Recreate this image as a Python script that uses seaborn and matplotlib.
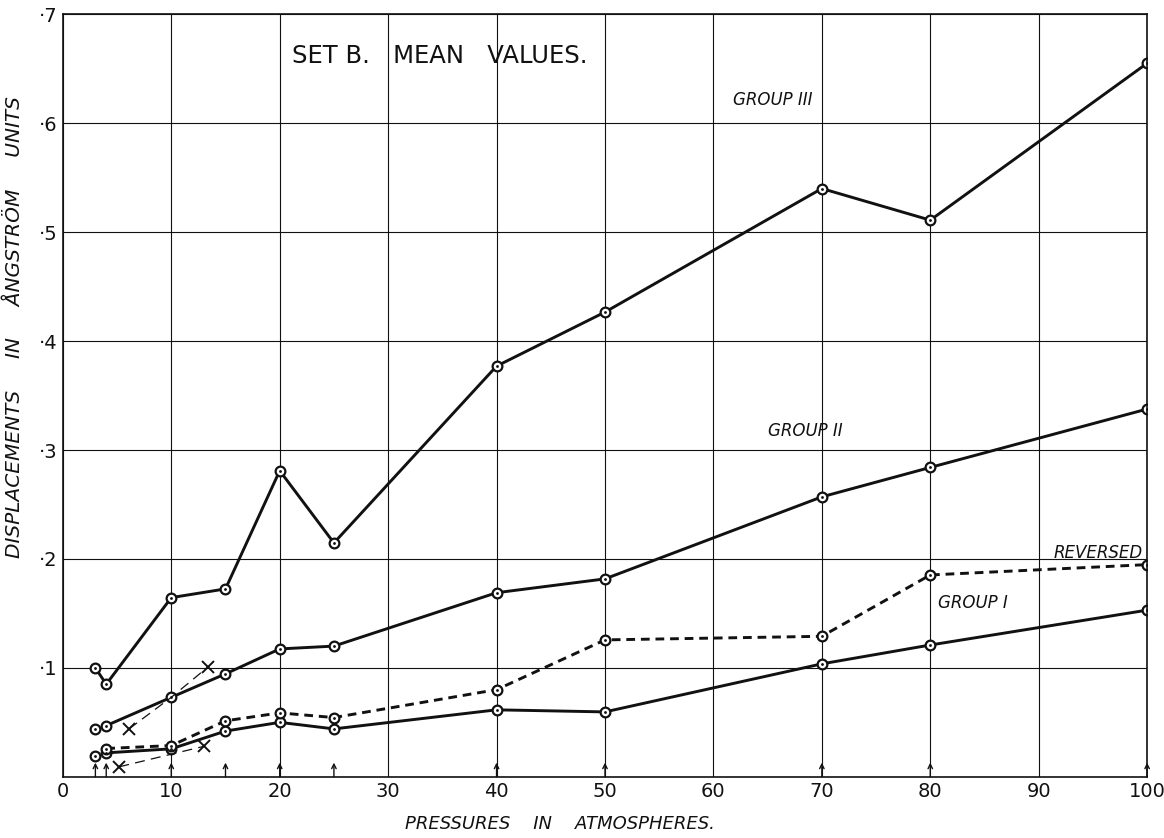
import numpy as np
import pandas as pd
import seaborn as sns
import matplotlib.pyplot as plt

# pressures (atmospheres)
pressures = [3, 4, 10, 15, 20, 25, 40, 50, 70, 80, 100]

# mean displacements (Angstrom units)
group3 = [0.100, 0.085, 0.1645, 0.1725, 0.281, 0.2147, 0.377, 0.4266, 0.540, 0.511, 0.655]
group2 = [0.044, 0.047, 0.073, 0.0945, 0.1174, 0.120, 0.169, 0.1817, 0.257, 0.284, 0.3376]
group1 = [0.0187, 0.022, 0.0257, 0.042, 0.050, 0.044, 0.0615, 0.0596, 0.1037, 0.121, 0.153]
reversed_p = [4, 10, 15, 20, 25, 40, 50, 70, 80, 100]
reversed_v = [0.026, 0.0287, 0.0514, 0.0587, 0.0544, 0.080, 0.1257, 0.129, 0.1853, 0.1948]

# odd crosses joined by thin dashes
cross_upper_p = [6.1, 10, 13.4]
cross_upper_v = [0.044, 0.073, 0.101]
cross_lower_p = [5.2, 13.0]
cross_lower_v = [0.0092, 0.028]

xticks = list(range(0, 101, 10))
yticks = [0.1, 0.2, 0.3, 0.4, 0.5, 0.6, 0.7]
ytick_labels = ["·1", "·2", "·3", "·4", "·5", "·6", "·7"]

sns.set_style("white")
plt.rcParams["font.family"] = ["DejaVu Sans"]

fig = plt.figure(figsize=(11.64, 8.38), dpi=100)
ax = fig.add_axes([0.054, 0.073, 0.9315, 0.910])

ink = "#111111"
circ = dict(marker="o", markersize=7, markerfacecolor="white",
            markeredgecolor=ink, markeredgewidth=1.6)

# Group III joined from 3 atm, groups I and II from 4 atm
sns.lineplot(x=pressures, y=group3, color=ink, linewidth=2.1, ax=ax, **circ)
sns.lineplot(x=pressures[1:], y=group2[1:], color=ink, linewidth=2.1, ax=ax, **circ)
sns.lineplot(x=pressures[1:], y=group1[1:], color=ink, linewidth=2.1, ax=ax, **circ)
sns.lineplot(x=reversed_p, y=reversed_v, color=ink, linewidth=2.1,
             linestyle=(0, (3, 2)), ax=ax, **circ)
ax.plot([pressures[0]] * 2, [group2[0], group1[0]], linestyle="none", **circ)

# little dots in the circles
all_p = pressures * 3 + reversed_p
all_v = group3 + group2 + group1 + reversed_v
ax.plot(all_p, all_v, linestyle="none", marker=".", markersize=2, color=ink)

# crosses
sns.lineplot(x=cross_upper_p, y=cross_upper_v, color=ink, linewidth=0.9,
             linestyle=(0, (8, 5)), ax=ax)
sns.lineplot(x=cross_lower_p, y=cross_lower_v, color=ink, linewidth=0.9,
             linestyle=(0, (8, 5)), ax=ax)
ax.plot([cross_upper_p[0], cross_upper_p[-1]], [cross_upper_v[0], cross_upper_v[-1]],
        linestyle="none", marker="x", markersize=8, color=ink, markeredgewidth=1.4)
ax.plot(cross_lower_p, cross_lower_v, linestyle="none", marker="x",
        markersize=8, color=ink, markeredgewidth=1.4)

# arrows at the foot of each pressure used
for p in pressures:
    ax.annotate("", xy=(p, 0.013), xytext=(p, 0.0),
                arrowprops=dict(arrowstyle="->", color=ink, lw=1.0,
                                shrinkA=0, shrinkB=0, mutation_scale=8))

ax.set_xlim(0, 100)
ax.set_ylim(0, 0.7)
ax.set_xticks(xticks)
ax.set_yticks(yticks)
ax.set_yticklabels(ytick_labels)
ax.tick_params(length=0, labelsize=14, colors=ink, pad=4)
ax.grid(True, color=ink, linewidth=0.8)
for s in ax.spines.values():
    s.set_visible(True)
    s.set_color(ink)
    s.set_linewidth(1.2)

ax.set_xlabel("PRESSURES    IN    ATMOSPHERES.", fontsize=13, style="italic",
              color=ink)
ax.xaxis.set_label_coords(0.458, -0.05)
ax.set_ylabel("DISPLACEMENTS     IN     ÅNGSTRÖM     UNITS", fontsize=14.5,
              style="italic", color=ink)
ax.yaxis.set_label_coords(-0.036, 0.59)

ax.text(21.1, 0.662, "SET B.   MEAN   VALUES.", fontsize=17.5, color=ink,
        ha="left", va="center")
ax.text(61.8, 0.617, "GROUP III", fontsize=12, style="italic", color=ink)
ax.text(65, 0.313, "GROUP II", fontsize=12, style="italic", color=ink)
ax.text(95.5, 0.201, "REVERSED", fontsize=12, style="italic", color=ink, ha="center")
ax.text(80.7, 0.155, "GROUP I", fontsize=12, style="italic", color=ink)

fig.savefig("out.png", dpi=100)
